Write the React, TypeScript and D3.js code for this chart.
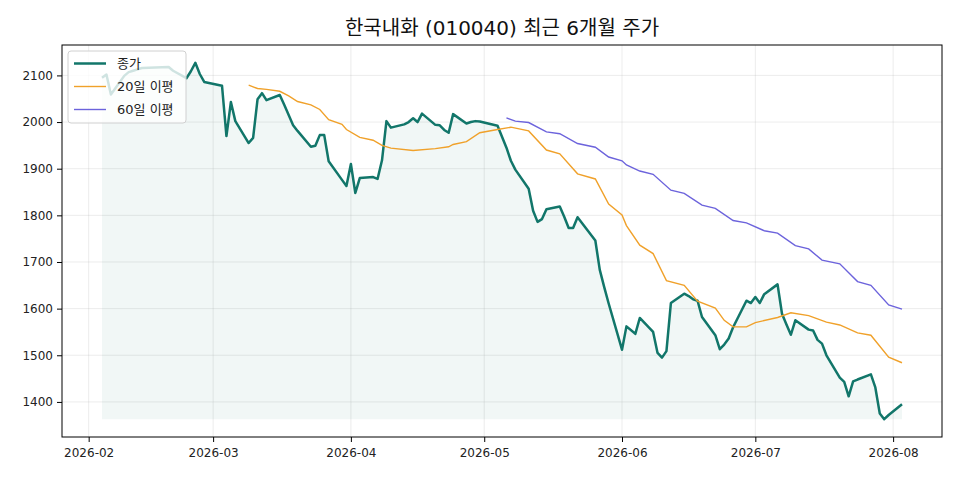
import React, { useRef, useEffect } from 'react';
import * as d3 from 'd3';

// 거래일 (KRX 휴장일 제외)
const tradingDates = [
  '2026-02-04', '2026-02-05', '2026-02-06', '2026-02-09', '2026-02-10', '2026-02-11', '2026-02-12', '2026-02-13',
  '2026-02-19', '2026-02-20', '2026-02-23', '2026-02-24', '2026-02-25', '2026-02-26', '2026-02-27',
  '2026-03-03', '2026-03-04', '2026-03-05', '2026-03-06', '2026-03-09', '2026-03-10', '2026-03-11', '2026-03-12',
  '2026-03-13', '2026-03-16', '2026-03-17', '2026-03-18', '2026-03-19', '2026-03-20', '2026-03-23', '2026-03-24',
  '2026-03-25', '2026-03-26', '2026-03-27', '2026-03-30', '2026-03-31',
  '2026-04-01', '2026-04-02', '2026-04-03', '2026-04-06', '2026-04-07', '2026-04-08', '2026-04-09', '2026-04-10',
  '2026-04-13', '2026-04-14', '2026-04-15', '2026-04-16', '2026-04-17', '2026-04-20', '2026-04-21', '2026-04-22',
  '2026-04-23', '2026-04-24', '2026-04-27', '2026-04-28', '2026-04-29', '2026-04-30',
  '2026-05-04', '2026-05-06', '2026-05-07', '2026-05-08', '2026-05-11', '2026-05-12', '2026-05-13', '2026-05-14',
  '2026-05-15', '2026-05-18', '2026-05-19', '2026-05-20', '2026-05-21', '2026-05-22', '2026-05-26', '2026-05-27',
  '2026-05-28', '2026-05-29',
  '2026-06-01', '2026-06-02', '2026-06-04', '2026-06-05', '2026-06-08', '2026-06-09', '2026-06-10', '2026-06-11',
  '2026-06-12', '2026-06-15', '2026-06-16', '2026-06-17', '2026-06-18', '2026-06-19', '2026-06-22', '2026-06-23',
  '2026-06-24', '2026-06-25', '2026-06-26', '2026-06-29', '2026-06-30',
  '2026-07-01', '2026-07-02', '2026-07-03', '2026-07-06', '2026-07-07', '2026-07-08', '2026-07-09', '2026-07-10',
  '2026-07-13', '2026-07-14', '2026-07-15', '2026-07-16', '2026-07-17', '2026-07-20', '2026-07-21', '2026-07-22',
  '2026-07-23', '2026-07-24', '2026-07-27', '2026-07-28', '2026-07-29', '2026-07-30', '2026-07-31',
  '2026-08-03',
];

// 종가
const closeValues = [
  2095, 2102, 2059, 2099, 2107, 2110, 2113, 2116,
  2118, 2110, 2094, 2109, 2127, 2103, 2086,
  2078, 1970, 2043, 2002, 1955, 1966, 2049, 2062,
  2047, 2058, 2037, 2015, 1993, 1981, 1947, 1949,
  1972, 1972, 1916, 1876, 1863,
  1910, 1848, 1880, 1882, 1878, 1918, 2002, 1988,
  1995, 2000, 2008, 2000, 2018, 1994, 1993, 1983,
  1977, 2017, 1997, 2000, 2002, 2001,
  1992, 1945, 1917, 1898, 1857, 1810, 1786, 1792,
  1813, 1819, 1797, 1773, 1773, 1796, 1746, 1683,
  1646, 1611,
  1512, 1562, 1546, 1580, 1550, 1505, 1495, 1509,
  1612, 1632, 1627, 1620, 1617, 1582, 1543, 1513,
  1523, 1536, 1560, 1617, 1612,
  1625, 1612, 1631, 1652, 1589, 1566, 1544, 1575,
  1555, 1553, 1533, 1525, 1500, 1452, 1443, 1412,
  1444, 1448, 1459, 1431, 1375, 1363, 1372,
  1395,
];

// 20일 이동평균
const ma20Dates = [
  '2026-03-09', '2026-03-11', '2026-03-13', '2026-03-16', '2026-03-18', '2026-03-20', '2026-03-23', '2026-03-25',
  '2026-03-27', '2026-03-30', '2026-03-31', '2026-04-03', '2026-04-06', '2026-04-08', '2026-04-10', '2026-04-15',
  '2026-04-20', '2026-04-23', '2026-04-24', '2026-04-27', '2026-04-30', '2026-05-04', '2026-05-07', '2026-05-11',
  '2026-05-15', '2026-05-18', '2026-05-22', '2026-05-26', '2026-05-29', '2026-06-01', '2026-06-02', '2026-06-05',
  '2026-06-08', '2026-06-11', '2026-06-15', '2026-06-18', '2026-06-22', '2026-06-24', '2026-06-26', '2026-06-29',
  '2026-07-01', '2026-07-06', '2026-07-09', '2026-07-13', '2026-07-17', '2026-07-20', '2026-07-24', '2026-07-27',
  '2026-07-31', '2026-08-03',
];
const ma20Values = [
  2079, 2072, 2070, 2066, 2056, 2044, 2037, 2027,
  2005, 1995, 1984, 1967, 1961, 1950, 1944, 1939,
  1943, 1947, 1952, 1958, 1977, 1984, 1989, 1981,
  1940, 1932, 1889, 1878, 1824, 1801, 1778, 1736,
  1718, 1660, 1650, 1616, 1601, 1575, 1561, 1561,
  1570, 1581, 1591, 1585, 1571, 1565, 1548, 1543,
  1496, 1484,
];

// 60일 이동평균
const ma60Dates = [
  '2026-05-06', '2026-05-08', '2026-05-11', '2026-05-15', '2026-05-18', '2026-05-22', '2026-05-26', '2026-05-29',
  '2026-06-01', '2026-06-02', '2026-06-05', '2026-06-08', '2026-06-12', '2026-06-15', '2026-06-19', '2026-06-22',
  '2026-06-26', '2026-06-29', '2026-07-03', '2026-07-06', '2026-07-10', '2026-07-13', '2026-07-16', '2026-07-20',
  '2026-07-24', '2026-07-27', '2026-07-31', '2026-08-03',
];
const ma60Values = [
  2009, 2002, 1999, 1979, 1975, 1954, 1946, 1925,
  1917, 1908, 1895, 1888, 1854, 1847, 1822, 1815,
  1789, 1784, 1767, 1762, 1735, 1728, 1704, 1696,
  1658, 1650, 1608, 1599,
];

const xTickLabels = ['2026-02', '2026-03', '2026-04', '2026-05', '2026-06', '2026-07', '2026-08'];
const yTickValues = [1400, 1500, 1600, 1700, 1800, 1900, 2000, 2100];
const legendLabels = ['종가', '20일 이평', '60일 이평'];

interface Point {
  date: Date;
  value: number;
}

// 라틴 문자는 DejaVu, 한글은 Noto CJK 로 대체
const FONT = '"DejaVu Sans", "Noto Sans CJK KR", sans-serif';
const CLOSE_COLOR = '#12766a';
const MA20_COLOR = '#f0a12a';
const MA60_COLOR = '#6c63dc';

const StockChart: React.FC = () => {
  const svgRef = useRef<SVGSVGElement | null>(null);
  const width = 960;
  const height = 480;
  const margin = { top: 45, right: 18, bottom: 43, left: 62 };

  useEffect(() => {
    if (!svgRef.current) return;
    const parse = d3.timeParse('%Y-%m-%d');
    const toPoints = (dates: string[], values: number[]): Point[] =>
      dates.map((d, i) => ({ date: parse(d) as Date, value: values[i] }));

    const closeData = toPoints(tradingDates, closeValues);
    const ma20Data = toPoints(ma20Dates, ma20Values);
    const ma60Data = toPoints(ma60Dates, ma60Values);

    const svg = d3.select(svgRef.current);
    svg.selectAll('*').remove();

    const innerWidth = width - margin.left - margin.right;
    const innerHeight = height - margin.top - margin.bottom;

    // matplotlib 처럼 양쪽 5% 여백
    const [d0, d1] = d3.extent(closeData, d => d.date) as [Date, Date];
    const padT = (d1.getTime() - d0.getTime()) * 0.05;
    const xScale = d3.scaleTime()
      .domain([new Date(d0.getTime() - padT), new Date(d1.getTime() + padT)])
      .range([0, innerWidth]);

    const [vMin, vMax] = d3.extent(closeData, d => d.value) as [number, number];
    const padV = (vMax - vMin) * 0.05;
    const yScale = d3.scaleLinear()
      .domain([vMin - padV, vMax + padV])
      .range([innerHeight, 0]);

    const chart = svg.append('g')
      .attr('transform', `translate(${margin.left},${margin.top})`);

    // Title
    svg.append('text')
      .attr('x', margin.left + innerWidth / 2)
      .attr('y', 35)
      .attr('text-anchor', 'middle')
      .attr('font-family', FONT)
      .attr('font-size', 20)
      .attr('fill', '#111')
      .text('한국내화 (010040) 최근 6개월 주가');

    const xTicks = xTickLabels.map(s => parse(s + '-01') as Date);

    // Grid
    chart.append('g')
      .selectAll('line.gx')
      .data(xTicks)
      .join('line')
      .attr('x1', d => xScale(d))
      .attr('x2', d => xScale(d))
      .attr('y1', 0)
      .attr('y2', innerHeight)
      .attr('stroke', '#b0b0b0')
      .attr('stroke-opacity', 0.3)
      .attr('stroke-width', 0.8);

    chart.append('g')
      .selectAll('line.gy')
      .data(yTickValues)
      .join('line')
      .attr('x1', 0)
      .attr('x2', innerWidth)
      .attr('y1', d => yScale(d))
      .attr('y2', d => yScale(d))
      .attr('stroke', '#b0b0b0')
      .attr('stroke-opacity', 0.3)
      .attr('stroke-width', 0.8);

    // Area under close
    const area = d3.area<Point>()
      .x(d => xScale(d.date))
      .y0(yScale(vMin))
      .y1(d => yScale(d.value));

    chart.append('path')
      .datum(closeData)
      .attr('fill', CLOSE_COLOR)
      .attr('fill-opacity', 0.06)
      .attr('d', area);

    const line = d3.line<Point>()
      .x(d => xScale(d.date))
      .y(d => yScale(d.value));

    chart.append('path')
      .datum(closeData)
      .attr('fill', 'none')
      .attr('stroke', CLOSE_COLOR)
      .attr('stroke-width', 2.5)
      .attr('stroke-linejoin', 'round')
      .attr('d', line);

    chart.append('path')
      .datum(ma20Data)
      .attr('fill', 'none')
      .attr('stroke', MA20_COLOR)
      .attr('stroke-width', 1.4)
      .attr('d', line);

    chart.append('path')
      .datum(ma60Data)
      .attr('fill', 'none')
      .attr('stroke', MA60_COLOR)
      .attr('stroke-width', 1.4)
      .attr('d', line);

    // Axes
    const xAxis = chart.append('g')
      .attr('transform', `translate(0,${innerHeight})`)
      .call(
        d3.axisBottom(xScale)
          .tickValues(xTicks)
          .tickFormat((_, i) => xTickLabels[i])
          .tickSize(5)
          .tickPadding(6)
      );
    xAxis.select('.domain').remove();
    xAxis.selectAll('text')
      .attr('font-family', FONT)
      .attr('font-size', 12)
      .attr('fill', '#222');
    xAxis.selectAll('line').attr('stroke', '#000');

    const yAxis = chart.append('g')
      .call(
        d3.axisLeft(yScale)
          .tickValues(yTickValues)
          .tickFormat(d3.format('d'))
          .tickSize(5)
          .tickPadding(4)
      );
    yAxis.select('.domain').remove();
    yAxis.selectAll('text')
      .attr('font-family', FONT)
      .attr('font-size', 12)
      .attr('fill', '#222');
    yAxis.selectAll('line').attr('stroke', '#000');

    // Frame
    chart.append('rect')
      .attr('x', 0)
      .attr('y', 0)
      .attr('width', innerWidth)
      .attr('height', innerHeight)
      .attr('fill', 'none')
      .attr('stroke', '#000')
      .attr('stroke-width', 1);

    // Legend
    const legend = chart.append('g').attr('transform', 'translate(6,6)');
    legend.append('rect')
      .attr('width', 118)
      .attr('height', 72)
      .attr('rx', 3)
      .attr('fill', '#fff')
      .attr('fill-opacity', 0.8)
      .attr('stroke', '#d0d0d0');

    const legendColors = [CLOSE_COLOR, MA20_COLOR, MA60_COLOR];
    const legendWidths = [2.5, 1.4, 1.4];
    legendLabels.forEach((label, i) => {
      const y = 12.5 + i * 23;
      legend.append('line')
        .attr('x1', 6)
        .attr('x2', 38)
        .attr('y1', y)
        .attr('y2', y)
        .attr('stroke', legendColors[i])
        .attr('stroke-width', legendWidths[i]);
      legend.append('text')
        .attr('x', 49)
        .attr('y', y)
        .attr('dy', '0.35em')
        .attr('font-family', FONT)
        .attr('font-size', 13)
        .attr('fill', '#222')
        .text(label);
    });
  }, []);

  return (
    <svg
      ref={svgRef}
      width={width}
      height={height}
      style={{ position: 'absolute', left: 0, top: 0, background: '#fff' }}
    />
  );
};

export default function App() {
  return <StockChart />;
}
